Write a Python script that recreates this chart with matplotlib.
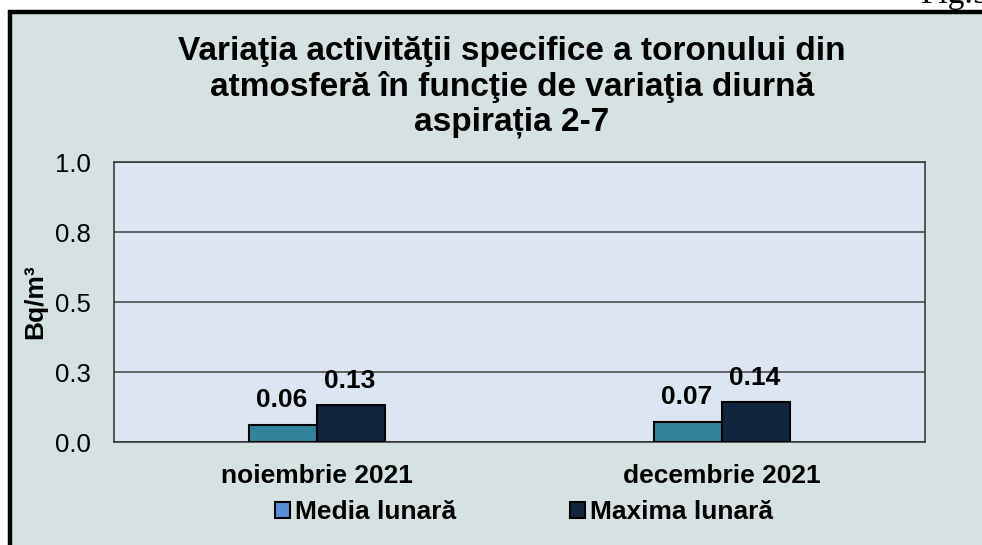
import numpy as np
import matplotlib.pyplot as plt
from matplotlib.patches import Patch, Rectangle

luni = ['noiembrie 2021', 'decembrie 2021']
media_lunara = [0.061, 0.072]
maxima_lunara = [0.132, 0.142]
etichete_y = ['0.0', '0.3', '0.5', '0.8', '1.0']
valori_y = [0.0, 0.25, 0.5, 0.75, 1.0]

titlu = ("Variaţia activităţii specifice a toronului din\n"
         "atmosferă în funcţie de variaţia diurnă\n"
         "aspirația 2-7")

plt.rcParams['font.family'] = ['Liberation Sans', 'DejaVu Sans']

fundal = '#D6E2E1'
culoare_media = '#31849B'
culoare_maxima = '#12253F'

fig = plt.figure(figsize=(9.82, 5.45), dpi=100)
fig.patch.set_facecolor('white')

# chenarul graficului (iese din imagine la dreapta si jos)
chenar = Rectangle((10 / 982, -0.1), 1.2, 1 - 12.5 / 545 + 0.1,
                   transform=fig.transFigure, facecolor=fundal,
                   edgecolor='black', linewidth=3.2, zorder=-1)
fig.patches.append(chenar)

fig.text(0.937, 1 - 3 / 545, 'Fig.5', family='Liberation Serif',
         fontsize=24, ha='left', va='baseline')

ax = fig.add_axes([114 / 982, 1 - 442 / 545, 811 / 982, 280 / 545])
ax.set_zorder(2)
ax.set_facecolor('#DCE6F2')

x = np.arange(len(luni))
latime = 0.168
b1 = ax.bar(x - latime / 2, media_lunara, latime, color=culoare_media,
            edgecolor='black', linewidth=1.5, zorder=3)
b2 = ax.bar(x + latime / 2, maxima_lunara, latime, color=culoare_maxima,
            edgecolor='black', linewidth=1.5, zorder=3)

for bare, valori in [(b1, media_lunara), (b2, maxima_lunara)]:
    for bara, v in zip(bare, valori):
        ax.annotate(f"{v:.2f}", (bara.get_x() + bara.get_width() / 2, v),
                    xytext=(-1, 9), textcoords='offset points',
                    ha='center', va='bottom', fontsize=19, fontweight='bold')

ax.set_xlim(-0.5, 1.5)
ax.set_ylim(0, 1.0)
ax.set_yticks(valori_y)
ax.set_yticklabels(etichete_y, fontsize=18.5)
ax.set_xticks(x)
ax.set_xticklabels(luni, fontsize=19, fontweight='bold')
ax.tick_params(axis='y', length=0, pad=17)
ax.tick_params(axis='x', length=0, pad=16)
ax.grid(axis='y', color='#404040', linewidth=1.1, zorder=1)
for s in ax.spines.values():
    s.set_color('#303030')
    s.set_linewidth(1.1)

fig.text(35 / 982, 1 - 302 / 545, 'Bq/m³', rotation=90, ha='center',
         va='center', fontsize=19, fontweight='bold')

fig.text(512 / 982, 1 - 87 / 545, titlu, ha='center', va='center',
         fontsize=24, fontweight='bold', linespacing=1.17)

handles = [Patch(facecolor='#558ED5', edgecolor='black', linewidth=1.5),
           Patch(facecolor=culoare_maxima, edgecolor='black', linewidth=1.5)]
fig.legend(handles, ['Media lunară', 'Maxima lunară'], loc='center',
           bbox_to_anchor=(524 / 982, 1 - 512 / 545), ncol=2, frameon=False,
           prop={'size': 19, 'weight': 'bold'}, handlelength=0.57,
           handleheight=0.57, handletextpad=0.2, columnspacing=4.3)

fig.savefig('out.png', dpi=100, facecolor=fig.get_facecolor())
